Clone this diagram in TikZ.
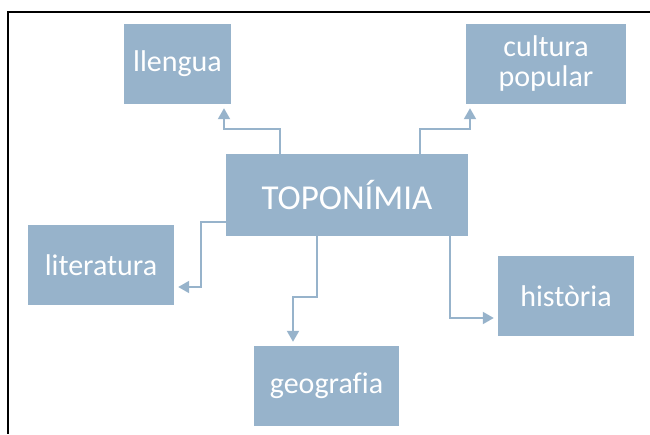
\documentclass[tikz,border=0pt]{standalone}
\usepackage{fontspec}
\setmainfont[Ligatures=NoCommon]{Carlito}
\usetikzlibrary{arrows.meta}
\definecolor{topicblue}{RGB}{151,179,203}

\begin{document}
\begin{tikzpicture}[x=1pt,y=1pt]
\tikzstyle{topic}=[fill=topicblue,text=white,inner sep=0pt,align=center,font=\fontsize{30}{30}\selectfont]
\tikzstyle{link} = [draw,topicblue,line width=2pt,-{Triangle[length=11pt,width=12pt]},shorten >=4pt]
\def \h {80pt}
\useasboundingbox (0,0) rectangle (650,434);
\draw[line width=2.4pt] (650,422) -- (8,422) -- (8,0);
\node[topic,minimum width=242pt,minimum height=82pt,font=\fontsize{35}{35}\selectfont] (topo) at (347,239) {TOPONÍMIA};
\node[topic,minimum width=107pt,minimum height=\h] (llengua) at (177.5,370) {llengua};
\node[topic,minimum width=160pt,minimum height=\h] (cultura) at (546,370) {cultura\\popular};
\node[topic,minimum width=146pt,minimum height=\h] (literatura) at (101,169) {literatura};
\node[topic,minimum width=136pt,minimum height=\h] (historia) at (566,138) {història};
\node[topic,minimum width=145pt,minimum height=\h] (geografia) at (326.5,48) {geografia};
\path[link] ([xshift=-67pt]topo.north) -- ++(0,25) -| ([xshift=46.5pt]llengua.south);
\path[link] ([xshift=73pt]topo.north) -- ++(0,25) -| ([xshift=-76pt]cultura.south);
\path[link] ([yshift=-27pt]topo.west) -- ++(-25,0) |- ([yshift=-22pt]literatura.east);
\path[link] ([xshift=-30pt]topo.south) -- ++(0,-61) -| ([xshift=-33.5pt]geografia.north);
\path[link] ([xshift=103pt]topo.south) |- ([yshift=-22pt]historia.west);
\end{tikzpicture}
\end{document}
